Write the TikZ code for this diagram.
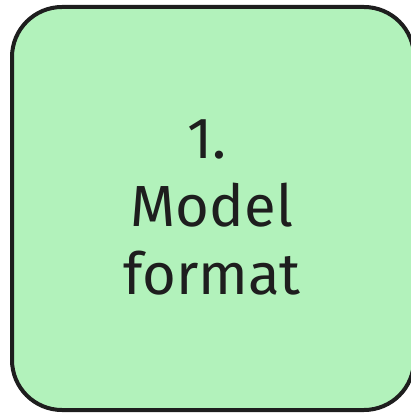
\documentclass[tikz,border=0pt]{standalone}
\usepackage{fontspec}
\setmainfont{Fira Sans}
\definecolor{boxgreen}{HTML}{B2F2BB}
\definecolor{ink}{HTML}{1E1E1E}
\tikzset{
  card/.style={draw=ink, fill=boxgreen, line width=4pt, rounded corners=50pt},
  label/.style={text=ink, align=center, font=\fontsize{58}{68}\selectfont}
}
\begin{document}
\begin{tikzpicture}[x=1pt,y=-1pt]
\useasboundingbox (0,0) rectangle (411,414);
\begin{scope}
\clip (0,0) rectangle (411,414);
\draw[card] (12,7) rectangle (414,410);
\end{scope}
\node[label] (title) at (212,207) {1.\hphantom{\,}\\Model\\format};
\end{tikzpicture}
\end{document}
